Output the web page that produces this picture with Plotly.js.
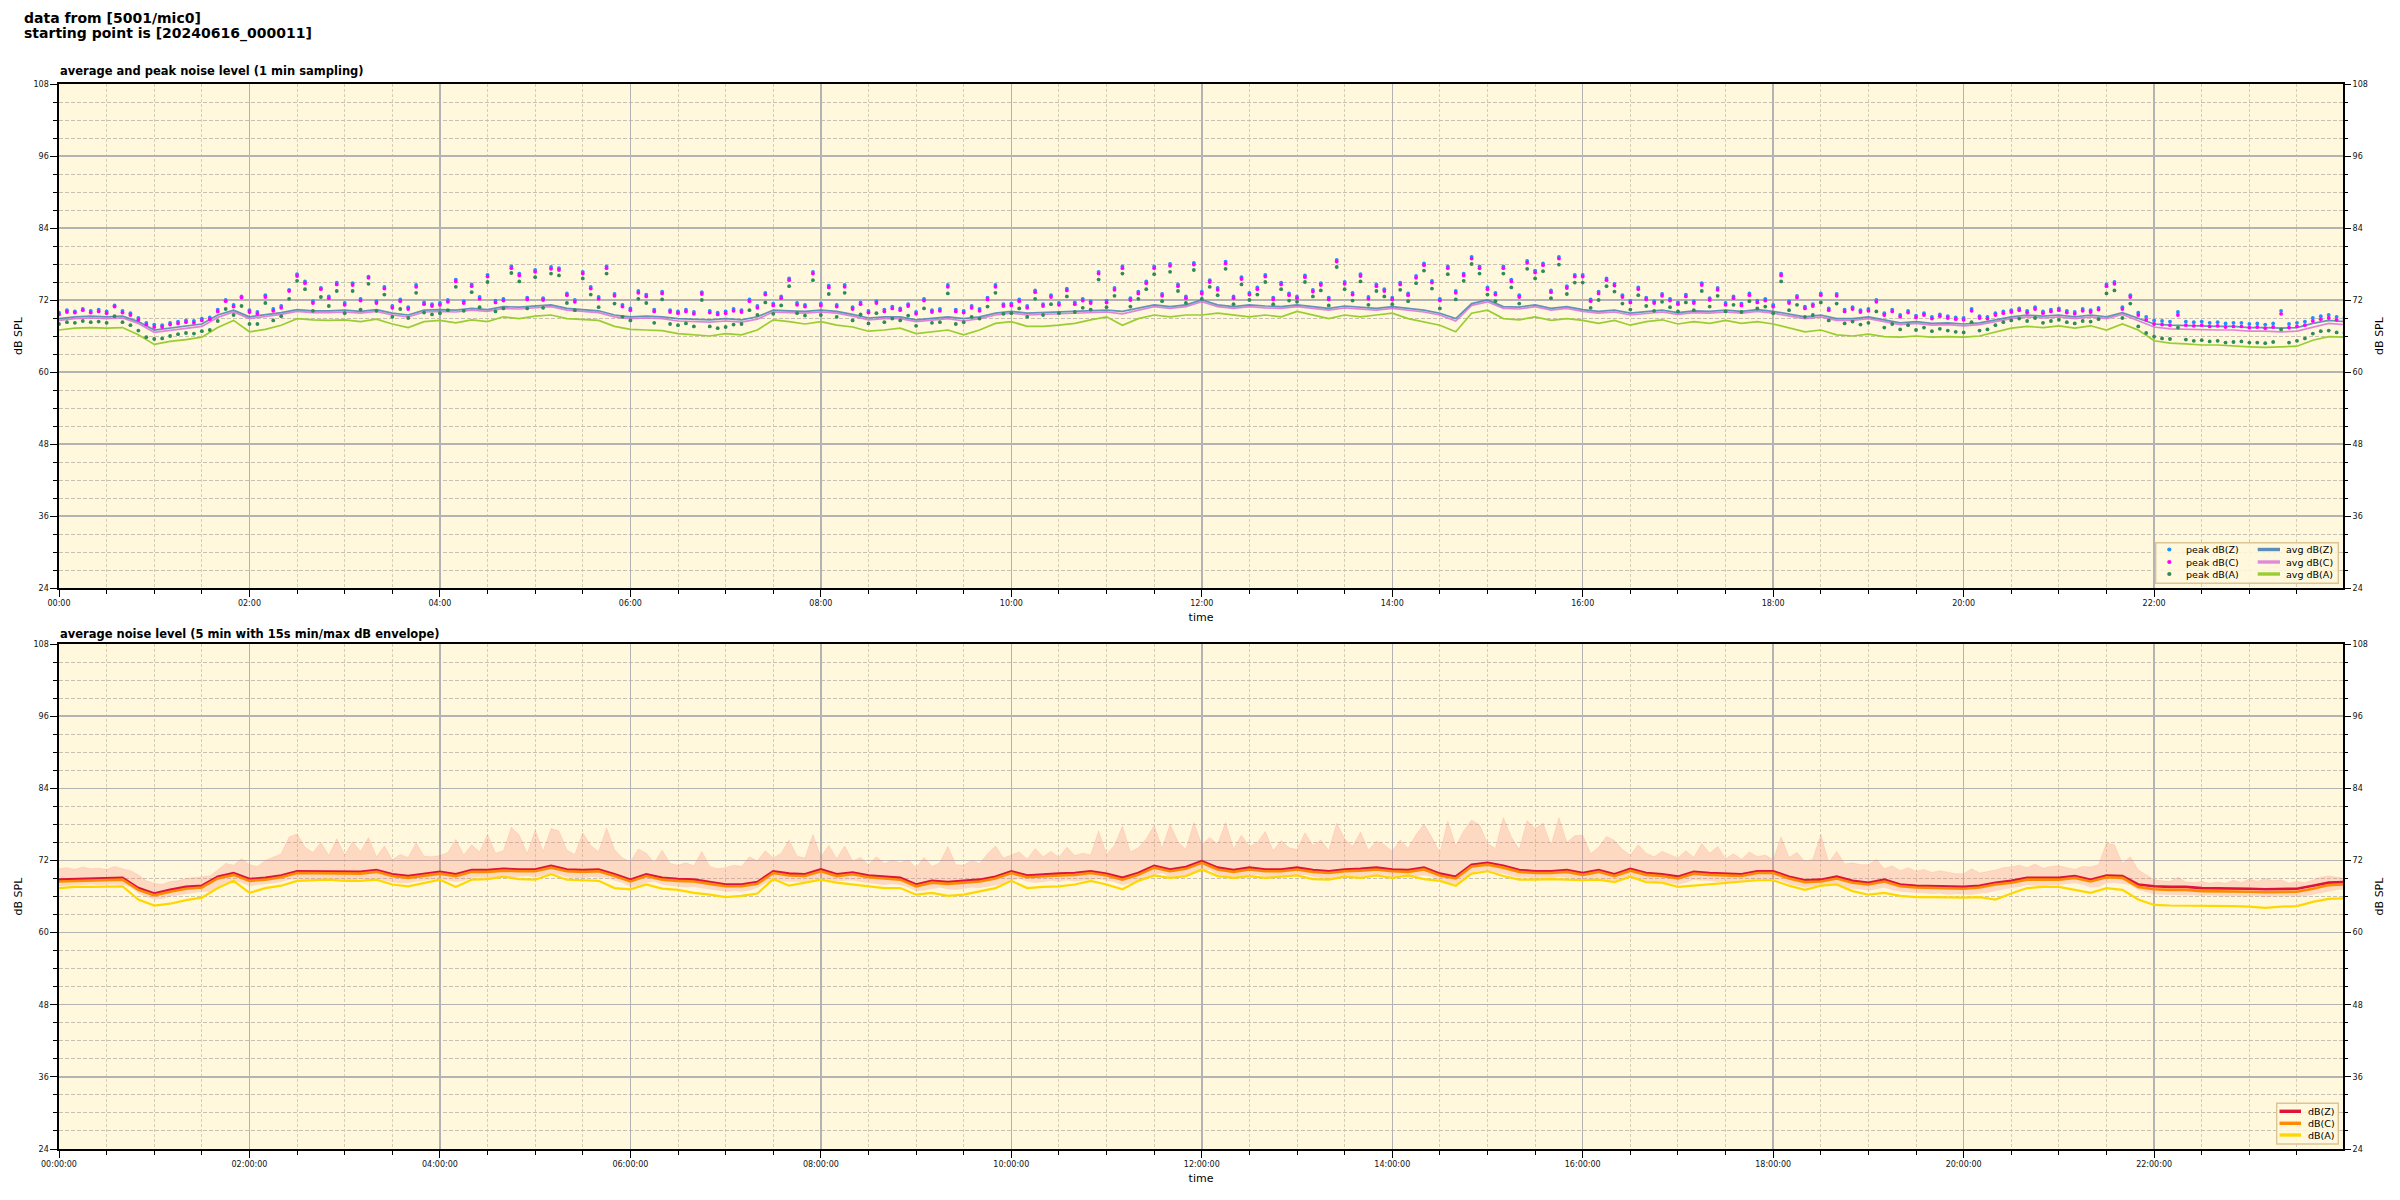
<!DOCTYPE html>
<html>
<head>
<meta charset="utf-8">
<script src="https://cdn.plot.ly/plotly-3.0.1.min.js"></script>
<style>html,body{margin:0;padding:0;background:#fff;}#chart{width:2400px;height:1200px;}</style>
</head>
<body>
<div id="chart"></div>
<script>
// ---------------- data ----------------
const mainTitle1 = "data from [5001/mic0]";
const mainTitle2 = "starting point is [20240616_000011]";
const topTitle = "average and peak noise level (1 min sampling)";
const bottomTitle = "average noise level (5 min with 15s min/max dB envelope)";
const topLegendPeak = ["peak dB(Z)", "peak dB(C)", "peak dB(A)"];
const topLegendAvg = ["avg dB(Z)", "avg dB(C)", "avg dB(A)"];
const bottomLegend = ["dB(Z)", "dB(C)", "dB(A)"];
const startDay = "2024-06-16";

// top: 10-minute averages (00:00 ... 24:00)
const avgZ = [
 68.9,69.2,69.3,69.2,69.3,68.4, 67.0,67.3,67.7,68.0,69.5,70.3,
 69.2,69.5,69.9,70.4,70.2,70.2, 70.3,70.1,70.4,69.8,69.5,70.3,
 70.4,70.3,70.6,70.4,70.9,70.8, 71.0,71.2,70.6,70.4,70.2,69.5,
 69.2,69.3,69.2,68.9,68.8,68.7, 68.9,68.7,69.2,70.3,70.2,70.1,
 70.3,70.1,69.6,69.0,69.2,69.2, 68.7,68.9,69.2,68.9,69.2,69.8,
 70.1,69.8,69.9,70.1,70.1,70.3, 70.3,70.1,70.6,71.2,70.9,71.2,
 72.0,71.2,70.9,71.2,71.0,70.9, 71.2,70.9,70.6,71.0,70.8,70.6,
 70.9,70.6,70.3,69.8,68.9,71.4, 72.0,70.9,70.8,71.2,70.6,70.9,
 70.4,70.1,70.3,69.8,70.1,70.3, 69.9,70.2,70.1,70.3,70.1,70.4,
 70.1,69.7,69.2,69.5,68.9,68.9, 69.2,68.7,68.2,68.4,68.1,68.2,
 68.0,68.2,68.7,69.2,69.5,69.3, 69.5,69.2,69.5,69.2,69.9,68.9,
 68.0,67.8,67.7,67.7,67.6,67.6, 67.4,67.4,67.3,67.4,68.1,68.6,
 68.4];
const avgC = [
 68.6,68.9,69.0,68.9,69.0,68.1, 66.6,66.9,67.3,67.6,69.1,70.0,
 68.9,69.2,69.6,70.1,69.9,69.9, 70.0,69.8,70.1,69.5,69.2,70.0,
 70.1,70.0,70.3,70.1,70.6,70.5, 70.7,70.9,70.3,70.1,69.9,69.2,
 68.9,69.0,68.9,68.5,68.4,68.3, 68.5,68.3,68.8,70.0,69.9,69.8,
 70.0,69.8,69.3,68.7,68.9,68.9, 68.4,68.6,68.9,68.5,68.9,69.5,
 69.8,69.5,69.6,69.8,69.8,70.0, 70.0,69.7,70.3,70.9,70.6,70.9,
 71.7,70.9,70.6,70.9,70.7,70.6, 70.9,70.6,70.3,70.7,70.5,70.3,
 70.6,70.3,70.0,69.5,68.5,71.1, 71.7,70.6,70.5,70.9,70.3,70.6,
 70.1,69.8,70.0,69.5,69.8,70.0, 69.6,69.9,69.8,70.0,69.8,70.1,
 69.8,69.4,68.9,69.2,68.6,68.6, 68.9,68.4,67.9,68.1,67.8,67.9,
 67.7,67.9,68.4,68.9,69.2,69.0, 69.2,68.9,69.2,68.9,69.6,68.5,
 67.5,67.2,67.1,67.1,67.0,67.0, 66.8,66.8,66.7,66.8,67.5,68.1,
 67.9];
const avgA = [
 67.0,67.3,67.4,67.3,67.4,66.2, 64.6,65.1,65.4,65.8,67.4,68.6,
 66.7,67.1,67.8,68.9,68.7,68.6, 68.7,68.4,68.8,68.0,67.4,68.4,
 68.6,68.2,68.7,68.4,69.2,68.9, 69.3,69.5,68.9,68.8,68.6,67.6,
 67.1,67.0,66.9,66.4,66.2,66.0, 66.4,66.2,67.0,68.7,68.4,68.0,
 68.4,67.8,67.5,66.8,67.0,67.3, 66.4,66.7,67.0,66.2,67.0,68.1,
 68.4,67.6,67.6,67.8,68.1,68.7, 69.2,67.8,68.9,69.5,69.2,69.5,
 69.5,69.8,69.5,69.2,69.5,69.2, 70.1,69.5,68.9,69.5,69.2,69.5,
 69.8,68.9,68.4,67.8,66.7,69.8, 70.3,68.9,68.7,69.2,68.6,68.9,
 68.6,68.1,68.6,67.8,68.4,68.7, 68.0,68.4,68.1,68.6,68.1,68.4,
 68.0,67.4,66.7,67.0,66.2,66.0, 66.3,65.9,65.8,66.0,65.8,65.9,
 65.8,66.0,66.6,67.3,67.6,67.4, 67.7,67.3,67.7,67.0,68.0,67.0,
 65.2,64.8,64.7,64.5,64.5,64.3, 64.2,64.1,64.2,64.3,65.3,65.9,
 65.8];

// top: peaks, 5-minute steps (00:00 ... 24:00)
const peakZ = [
 69.9,70.3,70.1,70.5,70.2,70.4,70.1,71.1,70.2,69.8,69.0,68.2,
 67.9,67.8,68.2,68.4,68.6,68.5,68.9,69.1,70.4,72.0,71.2,72.6,
 70.3,70.0,72.8,70.5,71.0,73.7,76.3,75.1,71.8,74.0,72.6,74.9,
 71.5,74.8,72.2,75.9,71.8,74.2,71.0,72.1,70.8,74.5,71.6,71.3,
 71.5,72.0,75.4,71.8,74.6,72.5,76.2,71.9,72.2,77.6,76.4,72.4,
 77.0,72.3,77.5,77.3,73.1,72.0,76.7,74.2,72.5,77.6,73.0,71.2,
 70.6,73.5,72.9,70.4,73.4,70.3,70.1,70.4,70.0,73.3,70.2,69.9,
 70.1,70.5,70.3,72.1,71.0,73.2,71.4,72.6,75.6,71.5,71.2,76.7,
 71.4,74.4,71.2,74.5,70.8,71.6,70.2,71.8,70.4,70.9,70.6,71.3,
 70.0,72.2,70.3,70.5,74.5,70.4,70.2,71.0,70.5,72.4,74.5,71.3,
 71.4,72.1,71.0,73.6,71.3,72.8,71.5,73.9,71.6,72.2,71.8,76.7,
 71.9,74.0,77.6,72.3,73.4,75.1,77.6,73.0,78.0,74.6,72.6,78.2,
 73.4,75.3,74.0,78.4,72.6,75.8,73.2,74.1,76.2,72.4,74.9,73.1,
 72.6,76.1,73.7,74.8,72.4,78.7,75.0,73.2,76.3,72.5,74.6,73.8,
 72.4,74.9,73.1,76.0,78.1,75.2,72.2,77.6,73.5,76.4,79.2,77.6,
 74.1,73.2,77.6,75.4,72.8,78.5,76.9,78.1,73.6,79.2,74.3,76.2,
 76.2,72.1,73.4,75.6,74.7,72.8,71.9,74.1,72.4,71.8,73.0,72.2,
 71.6,72.9,71.8,74.8,72.3,74.0,71.5,72.6,71.4,73.1,71.9,72.2,
 71.2,76.4,71.8,72.7,70.9,71.3,73.1,70.6,73.0,70.4,70.8,70.3,
 70.5,72.0,69.8,70.4,69.5,70.2,69.4,69.8,69.2,69.6,69.3,69.1,
 69.0,70.5,69.3,69.2,69.8,70.1,70.3,70.6,70.2,70.8,70.1,70.4,
 70.6,70.2,70.0,70.5,70.3,70.7,74.6,75.0,70.8,72.8,69.9,69.2,
 68.6,68.5,68.4,70.0,68.4,68.3,68.4,68.2,68.3,68.1,68.2,68.2,
 68.0,68.1,67.9,68.1,70.2,68.0,68.2,68.4,69.0,69.3,69.5,69.2,
 69.1];
const peakC = [
 69.6,70.0,69.9,70.3,69.9,70.1,69.8,70.9,69.9,69.5,68.7,67.9,
 67.5,67.5,67.9,68.1,68.3,68.2,68.6,68.8,70.1,71.8,70.9,72.4,
 70.0,69.7,72.5,70.2,70.7,73.5,76.0,74.8,71.5,73.8,72.3,74.6,
 71.2,74.5,71.9,75.7,71.5,73.9,70.7,71.8,70.5,74.2,71.3,71.0,
 71.2,71.7,75.1,71.5,74.3,72.2,75.9,71.6,71.9,77.3,76.1,72.1,
 76.7,72.0,77.2,77.0,72.8,71.7,76.4,73.9,72.2,77.3,72.7,70.9,
 70.3,73.2,72.6,70.1,73.1,70.0,69.8,70.1,69.7,73.0,69.9,69.6,
 69.8,70.2,70.0,71.8,70.7,72.9,71.1,72.3,75.3,71.2,70.9,76.4,
 71.1,74.1,70.9,74.2,70.5,71.3,69.9,71.5,70.1,70.6,70.3,71.0,
 69.7,71.9,70.0,70.2,74.2,70.1,69.9,70.7,70.2,72.1,74.2,71.0,
 71.1,71.8,70.7,73.3,71.0,72.5,71.2,73.6,71.3,71.9,71.5,76.4,
 71.6,73.7,77.3,72.0,73.1,74.8,77.3,72.7,77.7,74.3,72.3,77.9,
 73.1,75.0,73.7,78.1,72.3,75.5,72.9,73.8,75.9,72.1,74.6,72.8,
 72.3,75.8,73.4,74.5,72.1,78.4,74.7,72.9,76.0,72.2,74.3,73.5,
 72.1,74.6,72.8,75.7,77.8,74.9,71.9,77.3,73.2,76.1,78.9,77.3,
 73.8,72.9,77.3,75.1,72.5,78.2,76.6,77.8,73.3,78.9,74.0,75.9,
 75.9,71.8,73.1,75.3,74.4,72.5,71.6,73.8,72.1,71.5,72.7,71.9,
 71.3,72.6,71.5,74.5,72.0,73.7,71.2,72.3,71.1,72.8,71.6,71.9,
 70.9,76.1,71.5,72.4,70.6,71.0,72.8,70.3,72.7,70.1,70.5,70.0,
 70.2,71.7,69.5,70.1,69.2,69.9,69.1,69.5,68.9,69.3,69.0,68.8,
 68.7,70.2,69.0,68.9,69.5,69.8,70.0,70.3,69.9,70.5,69.8,70.1,
 70.3,69.9,69.7,70.2,70.0,70.4,74.3,74.7,70.5,72.5,69.5,68.7,
 68.0,67.9,67.8,69.5,67.8,67.7,67.8,67.6,67.7,67.5,67.6,67.6,
 67.4,67.5,67.3,67.5,69.7,67.4,67.6,67.8,68.5,68.8,69.0,68.7,
 68.6];
const peakA = [
 68.0,68.3,68.2,68.5,68.3,68.4,68.2,69.3,68.3,67.8,66.9,65.8,
 65.5,65.6,66.0,66.3,66.5,66.4,66.8,67.0,68.5,70.5,69.5,71.0,
 68.0,68.0,71.5,68.6,69.3,72.2,75.2,73.8,70.2,72.5,71.0,73.5,
 69.8,73.5,70.4,74.7,70.2,72.9,69.2,70.5,69.0,73.2,69.9,69.6,
 69.8,70.3,74.2,70.2,73.3,70.8,75.0,70.1,70.6,76.5,75.1,70.6,
 75.8,70.7,76.4,76.1,71.5,70.3,75.6,72.9,70.8,76.4,71.4,69.2,
 68.6,72.2,71.5,68.2,72.1,68.0,67.8,68.1,67.6,72.0,67.6,67.3,
 67.5,67.9,68.0,70.3,69.5,71.6,69.7,71.1,74.3,69.8,69.4,75.3,
 69.5,73.0,69.2,73.2,68.6,69.6,68.1,69.8,68.3,68.9,68.6,69.4,
 67.7,70.6,68.2,68.3,73.1,68.0,68.3,69.2,68.9,70.9,73.2,69.7,
 69.8,70.6,69.2,72.2,69.5,71.3,69.8,72.6,70.0,70.7,70.4,75.4,
 70.8,72.7,76.4,70.9,72.2,73.8,76.3,71.8,76.7,73.5,71.5,77.0,
 72.2,74.2,72.8,77.2,71.3,74.6,72.0,72.9,75.0,71.3,73.8,71.9,
 71.7,75.0,72.6,73.6,71.1,77.5,73.8,71.9,75.1,71.2,73.5,72.6,
 71.3,73.7,71.8,74.8,76.9,73.9,70.6,76.3,72.1,75.2,78.0,76.4,
 72.9,71.8,76.4,74.1,71.4,77.2,75.6,76.8,72.3,77.9,73.0,74.9,
 74.9,70.7,72.0,74.3,73.4,71.4,70.4,72.8,71.0,70.2,71.7,70.8,
 70.1,71.6,70.3,73.5,70.9,72.7,70.1,71.2,70.0,71.8,70.6,70.9,
 69.8,75.1,70.3,71.2,69.2,69.5,71.6,68.6,71.4,68.1,68.4,67.9,
 68.2,70.1,67.4,68.0,67.1,67.8,67.0,67.4,66.8,67.2,66.9,66.7,
 66.6,68.3,66.9,67.1,67.8,68.3,68.6,68.9,68.5,69.0,68.2,68.5,
 68.7,68.3,68.1,68.5,68.4,68.8,73.1,73.6,69.0,71.4,67.6,66.5,
 65.9,65.6,65.5,67.4,65.4,65.2,65.3,65.1,65.2,64.9,65.0,65.1,
 64.9,64.9,64.8,65.0,67.1,64.9,65.2,65.6,66.4,66.8,66.9,66.6,
 66.5];

// bottom: 5-min averages, shown at 10-minute steps (00:00 ... 24:00)
const lvlZ = [
 68.8,68.9,69.0,69.0,69.1,67.4, 66.5,67.1,67.6,67.8,69.3,69.9,
 68.9,69.1,69.5,70.2,70.2,70.1, 70.1,70.1,70.4,69.7,69.4,69.7,
 70.1,69.7,70.4,70.4,70.6,70.5, 70.5,71.1,70.5,70.4,70.5,69.7,
 68.8,69.7,69.1,68.9,68.8,68.4, 68.0,68.0,68.4,70.2,69.8,69.7,
 70.5,69.7,70.0,69.5,69.3,69.1, 68.0,68.6,68.4,68.6,68.8,69.3,
 70.2,69.5,69.7,69.8,69.9,70.2, 69.8,69.1,69.9,71.1,70.5,70.9,
 71.9,70.8,70.4,70.8,70.5,70.5, 70.8,70.4,70.2,70.5,70.6,70.8,
 70.5,70.4,70.8,69.8,69.3,71.3, 71.6,71.1,70.4,70.2,70.2,70.4,
 69.9,70.4,69.7,70.6,69.9,69.7, 69.3,70.1,69.9,69.8,69.7,70.2,
 70.2,69.3,68.7,68.8,69.3,68.6, 68.3,68.8,68.0,67.8,67.7,67.6,
 67.6,67.8,68.3,68.6,69.1,69.1, 69.1,69.4,68.8,69.5,69.4,68.0,
 67.7,67.6,67.6,67.4,67.4,67.3, 67.3,67.2,67.2,67.3,67.8,68.3,
 68.4];
const lvlC = [
 68.5,68.6,68.7,68.7,68.8,67.1, 66.2,66.8,67.3,67.5,69.0,69.6,
 68.6,68.8,69.2,69.9,69.9,69.8, 69.8,69.8,70.1,69.4,69.1,69.4,
 69.8,69.4,70.1,70.1,70.3,70.2, 70.2,70.8,70.2,70.1,70.2,69.4,
 68.5,69.4,68.8,68.6,68.5,68.1, 67.7,67.7,68.1,69.9,69.5,69.4,
 70.2,69.4,69.7,69.2,69.0,68.8, 67.7,68.3,68.1,68.3,68.5,69.0,
 69.9,69.2,69.4,69.5,69.6,69.9, 69.5,68.8,69.6,70.8,70.2,70.6,
 71.6,70.5,70.1,70.5,70.2,70.2, 70.5,70.1,69.9,70.2,70.3,70.5,
 70.2,70.1,70.5,69.5,69.0,71.0, 71.3,70.8,70.1,69.9,69.9,70.1,
 69.6,70.1,69.4,70.3,69.6,69.4, 69.0,69.8,69.6,69.5,69.4,69.9,
 69.9,69.0,68.4,68.5,69.0,68.3, 68.0,68.5,67.7,67.5,67.4,67.3,
 67.3,67.5,68.0,68.3,68.8,68.8, 68.8,69.1,68.5,69.2,69.1,67.6,
 67.2,67.1,67.1,66.9,66.9,66.8, 66.8,66.7,66.7,66.8,67.3,67.9,
 68.0];
const lvlA = [
 67.4,67.6,67.6,67.6,67.7,65.5, 64.5,64.8,65.4,65.8,67.4,68.6,
 66.6,67.4,67.8,68.6,68.7,68.8, 68.6,68.6,68.8,68.0,67.7,68.3,
 68.8,67.6,68.8,68.9,69.3,68.9, 68.8,69.7,68.8,68.7,68.6,67.4,
 67.2,68.0,67.3,67.1,66.6,66.3, 65.9,66.1,66.5,68.9,67.8,68.3,
 68.8,68.3,68.0,67.6,67.4,67.4, 66.3,66.6,66.1,66.3,66.9,67.4,
 68.6,67.4,67.6,67.7,68.0,68.6, 68.0,67.2,68.6,69.5,69.1,69.4,
 70.5,69.4,69.1,69.4,69.1,69.3, 69.5,68.9,68.8,69.3,69.1,69.5,
 69.1,69.5,68.9,68.6,67.8,69.8, 70.2,69.4,68.8,68.8,68.9,68.8,
 68.7,68.8,68.4,69.3,68.4,68.3, 67.6,67.8,68.0,68.3,68.4,68.7,
 68.7,67.8,67.1,67.8,68.0,66.9, 66.3,66.6,66.1,65.9,65.9,65.8,
 65.8,65.9,65.5,66.5,67.4,67.6, 67.6,67.1,66.6,67.4,67.1,65.5,
 64.6,64.5,64.5,64.5,64.4,64.4, 64.3,64.1,64.3,64.4,65.1,65.6,
 65.7];

// bottom: 15 s min / max envelope, 5-minute steps (00:00 ... 24:00)
const envMax = [
 70.6,70.8,70.5,70.9,70.6,70.7,70.5,71.0,70.6,70.3,69.6,68.6,
 68.2,68.0,68.5,68.6,69.0,69.1,69.3,69.4,70.4,71.5,71.2,72.3,
 71.3,71.0,72.0,72.6,73.1,75.9,76.4,74.2,73.3,75.0,72.8,75.6,
 72.9,75.1,73.5,75.8,72.6,74.4,72.1,73.0,72.5,74.9,72.7,72.6,
 72.8,73.3,75.5,72.9,74.6,73.4,76.3,73.2,73.6,77.5,76.2,73.1,
 77.0,73.5,77.3,76.9,73.7,73.0,76.6,74.5,73.4,77.4,73.8,72.4,
 71.8,73.9,73.2,71.6,73.7,71.5,71.2,71.6,71.1,73.5,71.0,70.6,
 70.8,71.2,71.0,72.6,71.9,73.6,72.4,73.2,75.4,72.7,72.4,76.3,
 72.6,74.5,72.3,74.4,71.9,72.5,71.3,72.6,71.5,72.0,71.6,72.1,
 70.8,72.5,71.0,71.6,74.3,71.3,71.2,72.0,71.5,73.1,74.4,72.4,
 72.9,73.4,72.2,74.0,72.6,73.5,72.5,74.2,72.8,73.2,72.9,76.9,
 73.0,74.5,77.7,73.4,74.1,75.6,77.8,74.0,78.0,75.1,73.8,78.3,
 74.6,75.8,74.7,78.3,73.9,76.2,74.3,75.0,76.8,73.6,75.3,74.1,
 73.8,76.6,74.5,75.4,73.6,78.2,75.6,74.3,76.7,73.7,75.2,74.6,
 73.5,75.4,74.0,76.3,78.0,75.8,73.2,78.5,74.4,76.9,78.7,77.9,
 74.8,74.0,79.1,75.9,73.8,78.6,77.3,78.2,74.5,79.1,75.0,76.1,
 76.2,73.1,74.2,76.0,75.3,73.8,72.9,74.6,73.2,72.6,73.5,72.9,
 72.4,73.6,72.5,74.8,73.2,74.3,72.3,73.1,72.2,73.4,72.6,72.9,
 72.1,75.9,72.5,73.3,71.8,72.2,76.3,71.6,73.5,71.4,71.6,71.3,
 71.3,72.2,70.6,71.1,70.3,70.8,70.2,70.5,70.0,70.3,70.1,69.8,
 69.8,70.6,69.9,70.1,70.4,70.8,70.9,71.2,70.8,71.4,70.7,71.0,
 71.1,70.8,70.5,71.0,70.9,71.3,74.9,74.6,71.5,72.6,70.4,69.6,
 68.8,68.6,68.5,69.2,68.4,68.3,68.5,68.2,68.4,68.2,68.7,68.3,
 68.9,68.5,69.0,68.6,68.8,68.2,68.5,68.3,68.8,69.2,69.4,69.2,
 69.0];
const envMin = [
 67.7,67.8,67.9,67.9,68.0,67.9,68.0,68.0,67.9,67.6,66.5,65.9,
 65.5,65.6,66.0,66.2,66.5,66.6,66.8,66.8,67.6,68.2,68.6,68.3,
 67.7,67.9,68.0,68.2,68.4,68.8,68.9,68.8,68.9,68.7,68.8,68.9,
 68.8,68.7,68.9,68.7,69.1,68.6,68.4,68.2,68.3,68.5,68.6,68.8,
 68.9,68.7,68.4,68.6,69.1,69.2,69.0,69.1,69.3,69.2,69.3,69.4,
 69.2,69.5,69.8,69.6,69.2,69.1,69.0,69.3,69.1,69.2,68.6,68.3,
 67.6,67.8,68.3,68.5,68.0,67.8,67.7,67.5,67.6,67.4,67.2,67.0,
 66.8,66.9,66.8,67.0,67.4,68.2,68.7,68.5,68.5,68.4,68.4,68.8,
 69.1,68.8,68.5,68.6,68.7,68.4,68.2,68.0,67.9,68.1,67.9,67.5,
 66.9,67.0,67.3,67.5,67.2,67.1,67.3,67.5,67.4,67.6,67.9,68.1,
 68.6,68.9,68.5,68.3,68.4,68.6,68.4,68.7,68.5,68.6,68.7,68.9,
 68.6,68.4,67.9,68.2,68.5,69.0,69.6,69.9,69.2,69.5,69.4,69.9,
 70.2,70.4,69.6,69.4,69.1,69.3,69.4,69.6,69.3,69.2,69.1,69.3,
 69.4,69.6,69.3,69.1,68.9,69.0,69.2,69.4,69.3,69.5,69.3,69.6,
 69.3,69.5,69.1,69.4,69.5,69.3,68.6,68.2,68.1,69.0,69.9,70.3,
 70.3,70.0,69.8,69.4,69.1,69.2,68.9,69.1,69.0,69.3,69.2,69.0,
 68.6,68.9,69.1,68.7,68.4,68.7,69.3,69.0,68.6,68.4,68.5,68.3,
 68.0,68.3,68.8,68.6,68.6,68.4,68.5,68.3,68.4,68.6,68.9,68.8,
 68.9,68.6,68.1,67.8,67.5,67.7,67.6,67.9,68.0,67.6,67.3,67.2,
 67.0,67.2,67.5,67.1,66.8,66.7,66.6,66.5,66.4,66.5,66.3,66.4,
 66.4,66.3,66.5,66.6,66.9,67.2,67.4,67.6,67.9,67.8,67.7,67.9,
 67.9,68.1,68.2,68.0,67.5,67.6,68.2,68.3,68.1,67.9,67.1,66.7,
 66.4,66.3,66.3,66.2,66.3,66.2,66.1,66.2,66.1,66.0,66.1,66.0,
 66.0,66.1,65.9,66.0,66.0,66.1,66.0,66.1,66.3,66.6,66.9,67.1,
 67.2];

// ---------------- helpers ----------------
function timeGrid(stepMin, n) {
  const t0 = Date.UTC(2024, 5, 16, 0, 0, 0);
  const out = [];
  for (let i = 0; i < n; i++) {
    const d = new Date(t0 + i * stepMin * 60000);
    out.push(d.toISOString().slice(0, 19).replace('T', ' '));
  }
  return out;
}
const t10 = timeGrid(10, avgZ.length);
const t5 = timeGrid(5, peakZ.length);

// pixel -> paper helpers for layout-only elements
const L = 59, R = 2343, T = 84, B = 1149;
const px = x => (x - L) / (R - L);
const py = y => (B - y) / (B - T);

const FONT = 'DejaVu Sans, Liberation Sans, sans-serif';
const BG = '#fff8dc';

const colPeak = ['#1e90ff', '#ff00ff', '#2e8b57'];
const colAvg = ['rgba(70,130,180,0.85)', 'rgba(218,112,214,0.85)', '#9acd32'];
const colAvgLeg = ['#5b8ebb', '#e08ad9', '#9acd32'];
const colLvl = ['#dc143c', '#ff8c00', '#ffd700'];

// ---------------- traces ----------------
const traces = [];
// top averages
[[avgA, 2], [avgC, 1], [avgZ, 0]].forEach(([arr, k]) => {
  traces.push({x: t10, y: arr, type: 'scatter', mode: 'lines', name: topLegendAvg[k],
    line: {color: colAvg[k], width: 1.7}, xaxis: 'x', yaxis: 'y', showlegend: false});
});
// top peaks
[[peakZ, 0], [peakC, 1], [peakA, 2]].forEach(([arr, k]) => {
  traces.push({x: t5, y: arr, type: 'scatter', mode: 'markers', name: topLegendPeak[k],
    marker: {color: colPeak[k], size: 3.8, line: {width: 0}}, xaxis: 'x', yaxis: 'y', showlegend: false});
});
// bottom envelope
traces.push({x: t5, y: envMin, type: 'scatter', mode: 'lines', line: {width: 0, color: 'rgba(250,128,114,0)'},
  xaxis: 'x2', yaxis: 'y3', showlegend: false, hoverinfo: 'skip'});
traces.push({x: t5, y: envMax, type: 'scatter', mode: 'lines', fill: 'tonexty',
  fillcolor: 'rgba(250,128,114,0.26)', line: {width: 0.6, color: 'rgba(250,128,114,0.30)'},
  xaxis: 'x2', yaxis: 'y3', showlegend: false, hoverinfo: 'skip'});
// bottom levels
[[lvlZ, 0], [lvlC, 1], [lvlA, 2]].forEach(([arr, k]) => {
  traces.push({x: t10, y: arr, type: 'scatter', mode: 'lines', name: bottomLegend[k],
    line: {color: colLvl[k], width: k === 2 ? 2.2 : 2.6}, xaxis: 'x2', yaxis: 'y3', showlegend: false});
});
// empty traces so that the right-hand mirror axes are drawn
traces.push({x: [t10[0]], y: [null], type: 'scatter', mode: 'markers', xaxis: 'x', yaxis: 'y2',
  showlegend: false, hoverinfo: 'skip'});
traces.push({x: [t10[0]], y: [null], type: 'scatter', mode: 'markers', xaxis: 'x2', yaxis: 'y4',
  showlegend: false, hoverinfo: 'skip'});

// ---------------- axes ----------------
const tickFont = {family: FONT, size: 8, color: '#111'};
const titleFont = {family: FONT, size: 11, color: '#000'};
function xAxis(anchor, fmt) {
  return {
    type: 'date', anchor: anchor,
    range: [startDay + ' 00:00:00', startDay + ' 23:59:00'],
    tick0: startDay + ' 00:00:00', dtick: 7200000, tickformat: fmt,
    ticks: 'outside', ticklen: 7, tickwidth: 1, tickcolor: '#000',
    showline: true, linecolor: '#000', linewidth: 1.6, mirror: true,
    showgrid: true, gridcolor: '#b3b3b3', gridwidth: 1.5, zeroline: false,
    tickfont: tickFont,
    minor: {dtick: 1800000, ticks: 'outside', ticklen: 4, tickcolor: '#000', tickwidth: 1,
            showgrid: true, gridcolor: '#d6cdb3', griddash: '3px,2px', gridwidth: 1},
    title: {text: 'time', font: titleFont, standoff: 6}
  };
}
function yAxis(domain, anchor) {
  return {
    domain: domain, anchor: anchor, range: [24, 108], tick0: 24, dtick: 12,
    ticks: 'outside', ticklen: 7, tickwidth: 1, tickcolor: '#000',
    showline: true, linecolor: '#000', linewidth: 1.6, mirror: true,
    showgrid: true, gridcolor: '#b3b3b3', gridwidth: 1.5, zeroline: false,
    tickfont: tickFont,
    minor: {dtick: 3, ticks: 'outside', ticklen: 4, tickcolor: '#000', tickwidth: 1,
            showgrid: true, gridcolor: '#c6c1b2', griddash: '4px,2px', gridwidth: 1},
    title: {text: 'dB SPL', font: titleFont, standoff: 8}
  };
}
function yRight(over, anchor, domain) {
  return {
    overlaying: over, anchor: anchor, side: 'right', domain: domain,
    range: [24, 108], tick0: 24, dtick: 12,
    ticks: 'outside', ticklen: 7, tickwidth: 1, tickcolor: '#000',
    showline: false, showgrid: false, zeroline: false, tickfont: tickFont,
    minor: {dtick: 3, ticks: 'outside', ticklen: 4, tickcolor: '#000', tickwidth: 1, showgrid: false},
    title: {text: 'dB SPL', font: titleFont, standoff: 8}
  };
}
const topDom = [py(588), 1];
const botDom = [0, py(644)];

// ---------------- legend (drawn as layout items) ----------------
const shapes = [];
const annotations = [];
function legendBox(x0, x1, y0, y1) {
  shapes.push({type: 'rect', xref: 'paper', yref: 'paper', x0: px(x0), x1: px(x1), y0: py(y1), y1: py(y0),
    fillcolor: 'rgba(255,248,220,0.85)', line: {color: '#dcc495', width: 1.4}, layer: 'above'});
}
function legendText(txt, x, y) {
  annotations.push({xref: 'paper', yref: 'paper', x: px(x), y: py(y), xanchor: 'left', yanchor: 'middle',
    text: txt, showarrow: false, font: {family: FONT, size: 9.5, color: '#000'}, borderpad: 0});
}
const topRows = [549.5, 562, 574];
legendBox(2155.7, 2338.3, 542.7, 583.3);
for (let k = 0; k < 3; k++) {
  shapes.push({type: 'circle', xref: 'paper', yref: 'paper', x0: px(2167.2), x1: px(2171.4),
    y0: py(topRows[k] + 2.1), y1: py(topRows[k] - 2.1), fillcolor: colPeak[k], line: {width: 0}, layer: 'above'});
  legendText(topLegendPeak[k], 2185, topRows[k]);
  shapes.push({type: 'line', xref: 'paper', yref: 'paper', x0: px(2257.7), x1: px(2280),
    y0: py(topRows[k]), y1: py(topRows[k]), line: {color: colAvgLeg[k], width: 3.4}, layer: 'above'});
  legendText(topLegendAvg[k], 2285, topRows[k]);
}
const botRows = [1111.3, 1123.3, 1135];
legendBox(2276.7, 2338.3, 1103.3, 1144);
for (let k = 0; k < 3; k++) {
  shapes.push({type: 'line', xref: 'paper', yref: 'paper', x0: px(2279.5), x1: px(2301),
    y0: py(botRows[k]), y1: py(botRows[k]), line: {color: colLvl[k], width: 3.4}, layer: 'above'});
  legendText(bottomLegend[k], 2306.5, botRows[k]);
}

// titles
annotations.push({xref: 'paper', yref: 'paper', x: px(23), y: py(18), xanchor: 'left', yanchor: 'middle',
  text: '<b>' + mainTitle1 + '</b>', showarrow: false, font: {family: FONT, size: 14, color: '#000'}, borderpad: 0});
annotations.push({xref: 'paper', yref: 'paper', x: px(23), y: py(34), xanchor: 'left', yanchor: 'middle',
  text: '<b>' + mainTitle2 + '</b>', showarrow: false, font: {family: FONT, size: 14, color: '#000'}, borderpad: 0});
annotations.push({xref: 'paper', yref: 'paper', x: px(58.5), y: py(71.5), xanchor: 'left', yanchor: 'middle',
  text: '<b>' + topTitle + '</b>', showarrow: false, font: {family: FONT, size: 11.5, color: '#000'}, borderpad: 0});
annotations.push({xref: 'paper', yref: 'paper', x: px(58.5), y: py(634), xanchor: 'left', yanchor: 'middle',
  text: '<b>' + bottomTitle + '</b>', showarrow: false, font: {family: FONT, size: 11.5, color: '#000'}, borderpad: 0});

const layout = {
  width: 2400, height: 1200,
  margin: {l: L, r: 2400 - R, t: T, b: 1200 - B, pad: 0},
  paper_bgcolor: '#ffffff', plot_bgcolor: BG,
  font: {family: FONT, size: 9, color: '#000'},
  showlegend: false,
  xaxis: xAxis('y', '%H:%M'),
  yaxis: yAxis(topDom, 'x'),
  yaxis2: yRight('y', 'x', topDom),
  xaxis2: xAxis('y3', '%H:%M:%S'),
  yaxis3: yAxis(botDom, 'x2'),
  yaxis4: yRight('y3', 'x2', botDom),
  shapes: shapes,
  annotations: annotations,
  hovermode: 'closest'
};

Plotly.newPlot('chart', traces, layout, {displayModeBar: false, staticPlot: true});
</script>
</body>
</html>
